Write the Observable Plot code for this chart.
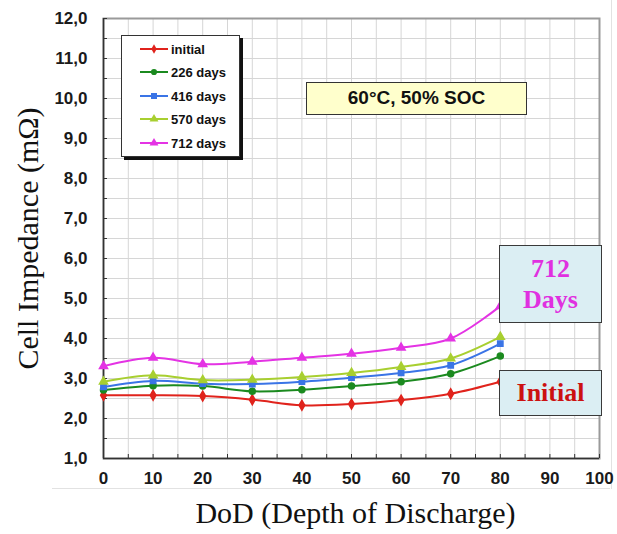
<!DOCTYPE html>
<html><head><meta charset="utf-8">
<script src="https://cdn.jsdelivr.net/npm/d3@7"></script>
<script src="https://cdn.jsdelivr.net/npm/@observablehq/plot@0.6"></script>
<style>
body{margin:0;background:#fff;}
#wrap{position:relative;width:617px;height:534px;overflow:hidden;font-family:"Liberation Sans",Arial,sans-serif;}
#wrap svg.plot{position:absolute;left:0;top:0;overflow:visible;}
.box{position:absolute;box-sizing:border-box;}
#legend{left:121px;top:35px;width:119px;height:122px;background:#fff;border:1px solid #333;box-shadow:3px 3px 0 #111;}
#legend .row{position:absolute;left:17px;height:16px;display:flex;align-items:center;font-weight:bold;font-size:13px;color:#111;}
#legend .row svg{margin-right:2px;}
#cond{left:306px;top:82px;width:221px;height:33px;background:#ffffcc;border:1.5px solid #333;text-align:center;font-weight:bold;font-size:19px;line-height:30px;color:#111;}
.note{background:#dbeef3;border:1.5px solid #3a3a3a;text-align:center;font-family:"Liberation Serif","Times New Roman",serif;font-weight:bold;font-size:26px;}
#n712{left:499px;top:245px;width:103px;height:78px;color:#e030e0;line-height:31px;padding-top:7px;}
#ninit{left:499px;top:370px;width:103px;height:46px;color:#cc1111;line-height:44px;}
.frameline{position:absolute;background:#e2e2e2;}
</style></head><body><div id="wrap"></div>
<script>
// ---- data ----
const dod = [0, 10, 20, 30, 40, 50, 60, 70, 80];
const seriesNames = ["initial", "226 days", "416 days", "570 days", "712 days"];
const initial = [2.58, 2.58, 2.56, 2.47, 2.33, 2.36, 2.46, 2.62, 2.92];
const days226 = [2.71, 2.82, 2.81, 2.68, 2.72, 2.81, 2.92, 3.12, 3.56];
const days416 = [2.79, 2.94, 2.87, 2.86, 2.92, 3.02, 3.14, 3.33, 3.87];
const days570 = [2.92, 3.08, 2.96, 2.97, 3.04, 3.14, 3.29, 3.50, 4.04];
const days712 = [3.31, 3.52, 3.36, 3.42, 3.52, 3.62, 3.77, 4.00, 4.81];
const yTickValues = [1, 2, 3, 4, 5, 6, 7, 8, 9, 10, 11, 12];
const xTickValues = [0, 10, 20, 30, 40, 50, 60, 70, 80, 90, 100];
const xTitle = "DoD (Depth of Discharge)";
const yTitle = "Cell Impedance (mΩ)";
const condText = "60°C, 50% SOC";

// ---- styles ----
const colors = ["#e0231c", "#1b8a1f", "#3a74e6", "#a8cf30", "#e433e4"];
const symbols = ["diamond", "circle", "square", "triangle", "triangle"];

const seriesValues = [initial, days226, days416, days570, days712];
const rows = [];
seriesNames.forEach((s, i) => dod.forEach((x, j) => rows.push({series: s, dod: x, value: seriesValues[i][j]})));

const yMinor = d3.range(1, 12.001, 0.5);
const xMinor = d3.range(0, 100.001, 5);
const fmt = d => d.toFixed(1).replace(".", ",");

const wrap = document.getElementById("wrap");
// faint picture border (behind chart)
const fb = document.createElement("div"); fb.className = "frameline"; fb.style.cssText = "left:52px;top:488px;width:558px;height:1px;"; wrap.appendChild(fb);
const fr = document.createElement("div"); fr.className = "frameline"; fr.style.cssText = "left:611px;top:0px;width:1px;height:489px;"; wrap.appendChild(fr);

const chart = Plot.plot({
  width: 617, height: 534,
  marginLeft: 103, marginRight: 18, marginTop: 18, marginBottom: 76,
  x: {domain: [0, 100], label: null},
  y: {domain: [1, 12], label: null},
  color: {domain: seriesNames, range: colors},
  symbol: {domain: seriesNames, range: symbols},
  style: {fontFamily: "'Liberation Sans', Arial, sans-serif", background: "transparent", overflow: "visible"},
  marks: [
    Plot.gridY(yMinor, {stroke: "#d6d6d6", strokeOpacity: 1}),
    Plot.gridX(xMinor, {stroke: "#d6d6d6", strokeOpacity: 1}),
    Plot.frame({stroke: "#9a9a9a", strokeWidth: 2}),
    Plot.ruleX([0], {stroke: "#333", strokeWidth: 1.5}),
    Plot.ruleY([1], {stroke: "#333", strokeWidth: 1.5}),
    Plot.axisY(yMinor, {tickSize: 4, dx: 4, tickFormat: () => "", stroke: "#333", label: null}),
    Plot.axisX(xMinor, {tickSize: 4, dy: -4, tickFormat: () => "", stroke: "#333", label: null}),
    Plot.axisY(yTickValues, {tickSize: 0, tickPadding: 16, tickFormat: fmt, fontSize: 17, fontWeight: "bold", fill: "#1a1a1a", label: null}),
    Plot.axisX(xTickValues, {tickSize: 0, tickPadding: 13, tickFormat: d => String(d), fontSize: 17, fontWeight: "bold", fill: "#1a1a1a", label: null}),
    Plot.line(rows, {x: "dod", y: "value", z: "series", stroke: "series", strokeWidth: 2, curve: "catmull-rom"}),
    Plot.dot(rows, {x: "dod", y: "value", fill: "series", stroke: "series", symbol: "series", r: 3}),
    Plot.text([xTitle], {frameAnchor: "bottom", dx: 4, dy: 64, fontSize: 30, fontFamily: "'Liberation Serif', 'Times New Roman', serif", fill: "#111"}),
    Plot.text([yTitle], {frameAnchor: "left", textAnchor: "middle", rotate: -90, dx: -75, fontSize: 30, fontFamily: "'Liberation Serif', 'Times New Roman', serif", fill: "#111"})
  ]
});
chart.classList.add("plot");
wrap.appendChild(chart);

// legend
const legend = document.createElement("div"); legend.id = "legend"; legend.className = "box";
const rowTops = [5, 28, 52, 75, 99];
seriesNames.forEach((s, i) => {
  const r = document.createElement("div"); r.className = "row"; r.style.top = rowTops[i] + "px";
  const size = symbols[i] === "circle" ? 30 : symbols[i] === "square" ? 36 : symbols[i] === "triangle" ? 34 : 26;
  const path = d3.symbol(symbols[i] === "diamond" ? d3.symbolDiamond : symbols[i] === "circle" ? d3.symbolCircle : symbols[i] === "square" ? d3.symbolSquare : d3.symbolTriangle, size)();
  r.innerHTML = `<svg width="30" height="12"><line x1="1" x2="29" y1="6" y2="6" stroke="${colors[i]}" stroke-width="2"/><path d="${path}" transform="translate(15,6)" fill="${colors[i]}"/></svg><span>${s}</span>`;
  legend.appendChild(r);
});
wrap.appendChild(legend);

const cond = document.createElement("div"); cond.id = "cond"; cond.className = "box"; cond.textContent = condText; wrap.appendChild(cond);
const n712 = document.createElement("div"); n712.id = "n712"; n712.className = "box note"; n712.innerHTML = "712<br>Days"; wrap.appendChild(n712);
const ninit = document.createElement("div"); ninit.id = "ninit"; ninit.className = "box note"; ninit.textContent = "Initial"; wrap.appendChild(ninit);
</script></body></html>
